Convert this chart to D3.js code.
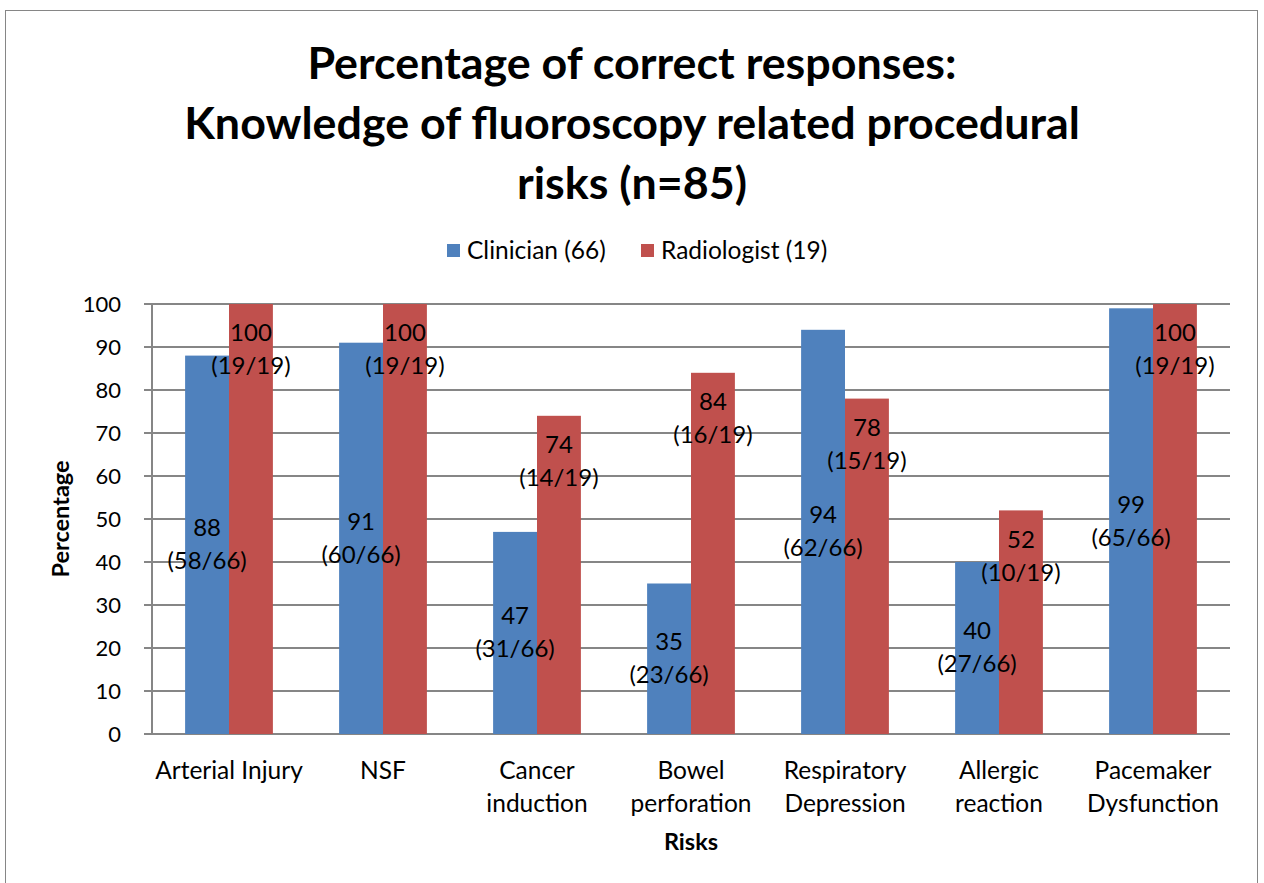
<!DOCTYPE html>
<html><head><meta charset="utf-8">
<script src="https://cdn.jsdelivr.net/npm/d3@7/dist/d3.min.js"></script>
<style>body{margin:0;background:#fff}svg{display:block}text{font-family:Lato,"Open Sans",sans-serif;fill:#000}</style>
</head><body>
<script>
const categories = [["Arterial Injury"],["NSF"],["Cancer","induction"],["Bowel","perforation"],["Respiratory","Depression"],["Allergic","reaction"],["Pacemaker","Dysfunction"]];
const seriesNames = ["Clinician (66)","Radiologist (19)"];
const clinician = [88,91,47,35,94,40,99];
const radiologist = [100,100,74,84,78,52,100];
const clinicianFrac = ["(58/66)","(60/66)","(31/66)","(23/66)","(62/66)","(27/66)","(65/66)"];
const radiologistFrac = ["(19/19)","(19/19)","(14/19)","(16/19)","(15/19)","(10/19)","(19/19)"];
const yTicks = [0,10,20,30,40,50,60,70,80,90,100];
const titleLines = ["Percentage of correct responses:","Knowledge of fluoroscopy related procedural","risks (n=85)"];
const colors = ["#4F81BD","#C0504D"];

const W=1264,H=883;
const svg=d3.select("body").append("svg").attr("width",W).attr("height",H);
svg.append("rect").attr("x",5.5).attr("y",10.5).attr("width",1252).attr("height",H).attr("fill","#fff").attr("stroke","#868686").attr("stroke-width",1);

const m={l:152,r:1230,t:304,b:734};
const x=d3.scaleBand().domain(d3.range(categories.length)).range([m.l,m.r]).paddingInner(0.43).paddingOuter(0.215);
const xs=d3.scaleBand().domain([0,1]).range([0,x.bandwidth()]);
const y=d3.scaleLinear().domain([0,100]).range([m.b,m.t]);

// gridlines
svg.append("g").selectAll("line").data(yTicks).join("line")
 .attr("x1",m.l-8).attr("x2",m.r).attr("y1",d=>y(d)).attr("y2",d=>y(d))
 .attr("stroke","#868686").attr("stroke-width",2);
svg.append("line").attr("x1",m.l).attr("x2",m.l).attr("y1",m.t).attr("y2",m.b).attr("stroke","#868686").attr("stroke-width",2);
svg.append("g").selectAll("text").data(yTicks).join("text")
 .attr("x",121).attr("y",d=>y(d)).attr("dy","0.35em").attr("text-anchor","end").attr("font-size",22).text(d=>d);

const data=categories.map((c,i)=>({i,vals:[clinician[i],radiologist[i]],fr:[clinicianFrac[i],radiologistFrac[i]]}));
const g=svg.append("g");
data.forEach(d=>{
  [0,1].forEach(s=>{
    g.append("rect").attr("x",x(d.i)+xs(s)).attr("y",y(d.vals[s])).attr("width",xs.bandwidth()).attr("height",y(0)-y(d.vals[s])).attr("fill",colors[s]);
  });
});
// labels
data.forEach(d=>{
  [0,1].forEach(s=>{
    const cx=x(d.i)+xs(s)+xs.bandwidth()/2;
    let y1;
    if(s===0){ const mid=y(d.vals[s]/2); y1=mid-17; }
    else { y1=y(d.vals[s])+29; }
    g.append("text").attr("x",cx).attr("y",y1).attr("dy","0.35em").attr("text-anchor","middle").attr("font-size",24).text(d.vals[s]);
    g.append("text").attr("x",cx).attr("y",y1+33).attr("dy","0.35em").attr("text-anchor","middle").attr("font-size",24).text(d.fr[s]);
  });
});
// category labels
categories.forEach((c,i)=>{
  c.forEach((l,j)=>{
    svg.append("text").attr("x",x(i)+x.bandwidth()/2).attr("y",770+j*33).attr("dy","0.35em").attr("text-anchor","middle").attr("font-size",24.5).text(l);
  });
});
// axis titles
svg.append("text").attr("x",(m.l+m.r)/2).attr("y",842).attr("dy","0.35em").attr("text-anchor","middle").attr("font-size",23.5).attr("font-weight","bold").text("Risks");
svg.append("text").attr("transform","translate(61,519) rotate(-90)").attr("dy","0.35em").attr("text-anchor","middle").attr("font-size",23.5).attr("font-weight","bold").text("Percentage");
// title
titleLines.forEach((t,i)=>{
  svg.append("text").attr("x",632).attr("y",63+i*60).attr("dy","0.35em").attr("text-anchor","middle").attr("font-size",44.8).attr("font-weight","bold").text(t);
});
// legend
const lg=svg.append("g");
const lx=[447,641];
seriesNames.forEach((n,i)=>{
  lg.append("rect").attr("x",lx[i]).attr("y",244).attr("width",13).attr("height",13).attr("fill",colors[i]);
  lg.append("text").attr("x",lx[i]+20).attr("y",250).attr("dy","0.35em").attr("font-size",24.5).text(n);
});
</script>
</body></html>
